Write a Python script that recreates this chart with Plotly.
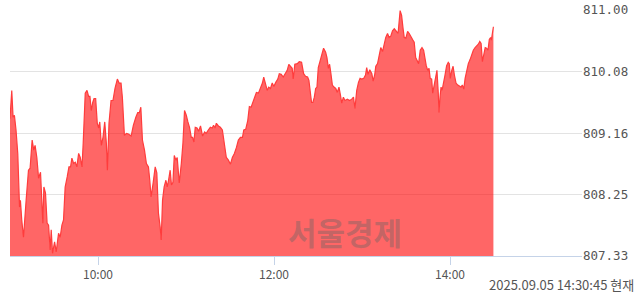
import plotly.graph_objects as go
import pandas as pd

# minutes after 09:00 on 2025-09-05
minutes = [0, 1.2, 2.1, 3.0, 4.1, 5.3, 6.5, 7.1, 8.0, 9.2, 11.0, 12.6, 13.7, 15.1, 16.2, 17.1, 18.3, 19.5, 20.8, 21.9,
           22.4, 23.1, 24.2, 25.3, 26.3, 27.4, 28.1, 29.0, 30.4, 31.5, 33.1, 34.2, 35.4, 36.5, 37.6, 39.0, 40.2, 41.3, 42.2, 43.4,
           44.5, 45.6, 46.8, 47.9, 49.1, 49.9, 51.3, 52.5, 53.6, 54.5, 55.4, 56.4, 57.3, 58.4, 59.5, 60.5, 61.2, 62.3, 63.4, 64.6,
           65.7, 66.4, 67.5, 68.9, 70.2, 71.6, 73.2, 74.4, 75.7, 76.6, 78.0, 79.4, 80.7, 82.6, 84.1, 85.8, 87.1, 88.2, 89.2, 90.3,
           91.7, 93.0, 94.4, 95.3, 96.2, 97.6, 99.0, 100.1, 101.2, 102.4, 103.1, 104.0, 105.1, 106.3, 107.2, 108.1, 109.2, 110.1, 111.1, 112.0,
           113.1, 114.0, 115.4, 116.8, 117.9, 119.0, 120.2, 121.3, 122.4, 123.6, 124.5, 125.4, 126.3, 127.5, 128.6, 129.9, 131.3, 132.7, 133.8, 135.2,
           136.6, 137.9, 138.8, 139.8, 140.7, 142.1, 143.4, 144.8, 146.2, 147.5, 148.9, 150.3, 151.6, 153.0, 154.4, 155.7, 157.1, 158.5, 159.4, 160.7,
           162.1, 163.2, 164.4, 165.8, 166.9, 168.0, 169.4, 170.8, 172.1, 173.0, 174.2, 175.4, 176.4, 177.6, 178.8, 179.9, 181.2, 182.6, 183.6, 184.9,
           186.3, 187.7, 189.0, 190.1, 191.3, 192.4, 193.1, 194.2, 195.9, 197.2, 198.8, 200.2, 201.5, 202.9, 203.8, 205.0, 205.6, 206.5, 207.5, 208.4,
           209.3, 210.2, 211.6, 213.0, 213.8, 215.2, 216.1, 217.1, 217.9, 218.8, 219.8, 220.9, 222.1, 223.2, 224.3, 225.3, 226.2, 227.3, 228.4, 230.0,
           231.6, 233.0, 234.2, 235.2, 236.4, 237.6, 238.7, 239.8, 241.2, 242.4, 243.2, 244.1, 245.3, 246.7, 247.6, 248.7, 249.4, 250.6, 251.7, 252.8,
           254.0, 255.1, 256.2, 257.4, 258.5, 259.6, 260.8, 262.0, 263.3, 264.6, 266.0, 267.0, 267.9, 268.8, 269.9, 271.1, 272.2, 273.4, 274.7, 275.6,
           276.6, 277.5, 278.6, 279.7, 280.9, 282.0, 282.9, 283.8, 284.8, 285.7, 286.5, 287.5, 288.2, 289.1, 290.0, 291.1, 292.0, 292.5, 293.2, 293.9,
           294.6, 295.4, 296.6, 297.7, 298.8, 299.5, 300.2, 301.2, 302.1, 303.0, 304.1, 305.3, 306.4, 307.5, 308.4, 309.4, 310.3, 311.4, 312.5, 313.7,
           314.8, 315.9, 317.1, 318.0, 319.3, 320.3, 321.2, 322.1, 323.1, 324.0, 324.9, 325.9, 326.8, 327.7, 328.2, 329.6]

prices = [809.38, 809.80, 809.40, 809.43, 809.21, 808.86, 808.06, 808.16, 807.87, 807.61, 808.16, 808.61, 808.64, 809.06, 808.91, 808.98, 808.80, 808.49, 808.58, 808.12,
          807.82, 808.36, 808.27, 807.82, 807.79, 807.42, 807.72, 807.37, 807.54, 807.39, 807.67, 807.61, 807.79, 807.87, 808.36, 808.51, 808.66, 808.66, 808.79, 808.71,
          808.73, 808.66, 808.86, 808.80, 808.66, 809.01, 809.76, 809.80, 809.71, 809.71, 809.50, 809.62, 809.68, 809.68, 809.31, 809.24, 809.33, 808.98, 809.10, 809.33,
          809.01, 808.61, 809.31, 809.65, 809.65, 809.83, 809.97, 809.91, 809.91, 809.70, 809.13, 809.16, 809.15, 809.12, 809.28, 809.40, 809.47, 809.47, 809.55, 809.06,
          808.91, 808.71, 808.66, 808.46, 808.21, 808.42, 808.66, 808.57, 807.97, 807.76, 807.57, 808.16, 808.36, 808.46, 808.36, 808.46, 808.61, 808.39, 808.43, 808.83,
          808.76, 808.80, 808.42, 808.71, 809.01, 809.50, 809.43, 809.33, 809.25, 809.10, 809.10, 809.03, 809.25, 809.24, 809.19, 809.27, 809.12, 809.18, 809.16, 809.21,
          809.25, 809.24, 809.28, 809.24, 809.31, 809.27, 809.25, 809.21, 809.01, 808.80, 808.76, 808.70, 808.80, 808.86, 808.95, 809.06, 809.10, 809.10, 809.21, 809.22,
          809.35, 809.56, 809.55, 809.65, 809.70, 809.77, 809.76, 809.83, 809.91, 810.00, 809.91, 809.80, 809.85, 809.83, 809.91, 809.86, 809.92, 809.97, 810.05, 810.04,
          810.00, 810.05, 810.10, 810.19, 810.16, 810.13, 809.97, 810.19, 810.20, 810.23, 810.22, 810.05, 810.01, 810.00, 809.95, 809.76, 809.62, 809.62, 809.70, 809.83,
          809.85, 810.14, 810.26, 810.40, 810.43, 810.37, 810.29, 810.13, 810.19, 810.05, 809.88, 809.85, 809.83, 809.77, 809.85, 809.73, 809.61, 809.70, 809.65, 809.67,
          809.65, 809.67, 809.70, 809.53, 809.80, 809.92, 809.98, 809.97, 809.98, 810.03, 810.14, 810.04, 810.11, 810.05, 809.94, 810.04, 810.16, 810.20, 810.34, 810.44,
          810.38, 810.50, 810.59, 810.65, 810.59, 810.61, 810.69, 810.72, 810.68, 810.65, 810.99, 810.92, 810.74, 810.59, 810.58, 810.68, 810.65, 810.59, 810.55, 810.52,
          810.29, 810.25, 810.20, 810.40, 810.44, 810.40, 810.25, 810.17, 810.10, 810.13, 809.98, 809.97, 809.76, 809.88, 810.00, 810.10, 809.76, 809.47, 809.70, 809.85,
          809.80, 809.92, 810.03, 810.17, 810.22, 810.20, 809.98, 810.10, 810.16, 810.03, 809.91, 809.88, 809.86, 809.85, 809.88, 809.82, 809.98, 810.10, 810.20, 810.26,
          810.34, 810.40, 810.44, 810.46, 810.49, 810.53, 810.50, 810.23, 810.35, 810.44, 810.43, 810.40, 810.56, 810.59, 810.55, 810.75]

y_ticks = [807.33, 808.25, 809.16, 810.08, 811.00]
x_tick_labels = ["10:00", "12:00", "14:00"]
timestamp_text = "2025.09.05 14:30:45 현재"
watermark = "서울경제"

base = pd.Timestamp("2025-09-05 09:00:00")
times = [base + pd.Timedelta(minutes=m) for m in minutes]
x_tick_vals = [pd.Timestamp("2025-09-05 " + t) for t in x_tick_labels]

font_family = "Noto Sans CJK KR, DejaVu Sans, sans-serif"

fig = go.Figure()
fig.add_trace(go.Scatter(
    x=times, y=prices, mode="lines",
    line=dict(color="rgb(255,60,60)", width=1.2),
    fill="tozeroy", fillcolor="rgba(255,0,0,0.6)",
    hoverinfo="skip", showlegend=False,
))

fig.update_layout(
    width=640, height=294,
    margin=dict(l=10, r=58, t=10, b=38),
    paper_bgcolor="white", plot_bgcolor="white",
    font=dict(family=font_family, size=12, color="#555555"),
    xaxis=dict(
        type="date",
        range=[base, pd.Timestamp("2025-09-05 15:30:00")],
        tickvals=x_tick_vals, ticktext=x_tick_labels,
        showgrid=False, zeroline=False,
        showline=True, linecolor="#c5d3e8", linewidth=1,
        ticks="outside", ticklen=8, tickcolor="#c5d3e8",
        tickfont=dict(size=12, color="#555555"),
        automargin=False, fixedrange=True,
    ),
    yaxis=dict(
        side="right",
        range=[807.33, 811.00],
        tickvals=y_ticks, ticktext=[f"{v:.2f}" for v in y_ticks],
        showgrid=True, gridcolor="#e3e3e3", gridwidth=1,
        zeroline=False, showline=False, ticks="",
        tickfont=dict(family="DejaVu Sans Mono, monospace", size=12.5, color="#555555"),
        automargin=False, fixedrange=True,
    ),
)

fig.add_annotation(
    text=watermark, xref="paper", yref="paper", x=0.586, y=0.098,
    xanchor="center", yanchor="middle", showarrow=False,
    font=dict(family="Noto Sans CJK KR", size=31, color="rgba(120,100,100,0.45)", weight="bold"),
)
fig.add_annotation(
    text=timestamp_text, xref="paper", yref="paper", x=1.0, y=0.0,
    xshift=54, yshift=-28, xanchor="right", yanchor="middle", showarrow=False,
    font=dict(family=font_family, size=13, color="#555555"),
)

fig.write_html("out.html")
